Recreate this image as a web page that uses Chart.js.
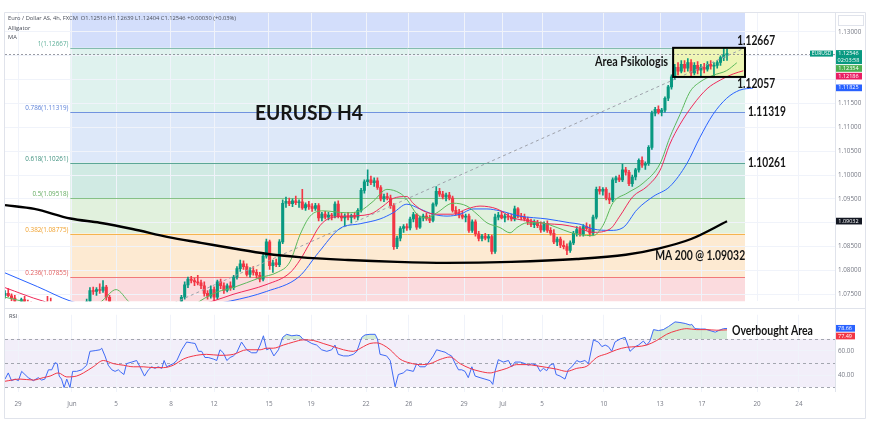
<!DOCTYPE html>
<html>
<head>
<meta charset="utf-8">
<script src="https://cdn.jsdelivr.net/npm/chart.js@4.4.0/dist/chart.umd.min.js"></script>
<style>
  html, body { margin: 0; padding: 0; background: #fff; }
  #wrap { position: relative; width: 870px; height: 426px; overflow: hidden; }
  canvas { position: absolute; left: 0; }
  #price { top: 0; }
  #rsi { top: 308px; }
</style>
</head>
<body>
<div id="wrap">
  <canvas id="price" width="870" height="308"></canvas>
  <canvas id="rsi" width="870" height="118"></canvas>
</div>
<script>
const UP = "#089981";
const DOWN = "#f23645";

// EURUSD 4h candles, 26 May – 18 Jul 2023: [open, high, low, close]
const candles4h = [
  // May 26
  [1.0748,1.0758,1.0742,1.0752],[1.0752,1.0762,1.0745,1.0747],[1.0747,1.0751,1.0736,1.0742],[1.0742,1.0748,1.0722,1.0726],
  // May 29
  [1.0726,1.0734,1.0712,1.0718],[1.0718,1.0742,1.0716,1.0739],[1.0739,1.0746,1.0728,1.0733],[1.0733,1.0738,1.0722,1.0728],[1.0728,1.0735,1.0716,1.0722],[1.0722,1.0731,1.0712,1.0725],
  // May 30
  [1.0725,1.0732,1.0708,1.0712],[1.0712,1.0718,1.0690,1.0698],[1.0698,1.0735,1.0695,1.0730],[1.0730,1.0746,1.0715,1.0720],[1.0720,1.0742,1.0702,1.0710],[1.0710,1.0716,1.0688,1.0692],
  // May 31
  [1.0692,1.0700,1.0672,1.0680],[1.0680,1.0689,1.0662,1.0670],[1.0670,1.0676,1.0640,1.0650],[1.0650,1.0668,1.0635,1.0662],[1.0662,1.0690,1.0655,1.0684],[1.0684,1.0696,1.0670,1.0688],
  // Jun 1
  [1.0688,1.0702,1.0680,1.0697],[1.0697,1.0712,1.0690,1.0706],[1.0706,1.0725,1.0700,1.0718],[1.0718,1.0740,1.0712,1.0735],[1.0735,1.0764,1.0730,1.0758],[1.0758,1.0765,1.0750,1.0756],
  // Jun 2
  [1.0756,1.0764,1.0748,1.0760],[1.0760,1.0772,1.0752,1.0758],[1.0758,1.0779,1.0754,1.0765],[1.0765,1.0769,1.0738,1.0744],[1.0744,1.0748,1.0712,1.0718],[1.0718,1.0724,1.0702,1.0709],
  // Jun 5
  [1.0709,1.0718,1.0690,1.0698],[1.0698,1.0712,1.0690,1.0705],[1.0705,1.0722,1.0698,1.0715],[1.0715,1.0728,1.0700,1.0706],[1.0706,1.0712,1.0680,1.0688],[1.0688,1.0716,1.0684,1.0710],
  // Jun 6
  [1.0710,1.0718,1.0700,1.0704],[1.0704,1.0710,1.0688,1.0694],[1.0694,1.0700,1.0668,1.0676],[1.0676,1.0705,1.0672,1.0700],[1.0700,1.0712,1.0692,1.0696],[1.0696,1.0706,1.0690,1.0700],
  // Jun 7
  [1.0700,1.0708,1.0690,1.0696],[1.0696,1.0702,1.0680,1.0686],[1.0686,1.0692,1.0668,1.0675],[1.0675,1.0706,1.0670,1.0699],[1.0699,1.0712,1.0692,1.0704],[1.0704,1.0710,1.0694,1.0700],
  // Jun 8
  [1.0700,1.0712,1.0696,1.0708],[1.0708,1.0722,1.0702,1.0718],[1.0718,1.0748,1.0714,1.0744],[1.0744,1.0776,1.0740,1.0770],[1.0770,1.0786,1.0764,1.0782],[1.0782,1.0788,1.0774,1.0779],
  // Jun 9
  [1.0779,1.0784,1.0768,1.0776],[1.0776,1.0790,1.0770,1.0774],[1.0774,1.0780,1.0762,1.0768],[1.0768,1.0776,1.0746,1.0752],[1.0752,1.0758,1.0740,1.0746],[1.0746,1.0768,1.0742,1.0760],
  // Jun 12
  [1.0760,1.0766,1.0736,1.0744],[1.0744,1.0780,1.0740,1.0776],[1.0776,1.0782,1.0762,1.0768],[1.0768,1.0774,1.0752,1.0758],[1.0758,1.0772,1.0755,1.0768],[1.0768,1.0776,1.0758,1.0764],
  // Jun 13
  [1.0764,1.0790,1.0760,1.0786],[1.0786,1.0808,1.0782,1.0804],[1.0804,1.0822,1.0798,1.0814],[1.0814,1.0820,1.0802,1.0808],[1.0808,1.0814,1.0788,1.0792],[1.0792,1.0806,1.0786,1.0800],
  // Jun 14
  [1.0800,1.0808,1.0790,1.0796],[1.0796,1.0802,1.0784,1.0790],[1.0790,1.0796,1.0776,1.0782],[1.0782,1.0834,1.0778,1.0830],[1.0830,1.0866,1.0826,1.0860],[1.0860,1.0864,1.0802,1.0810],
  // Jun 15
  [1.0810,1.0822,1.0796,1.0816],[1.0816,1.0824,1.0808,1.0812],[1.0812,1.0865,1.0808,1.0860],[1.0860,1.0948,1.0856,1.0941],[1.0941,1.0954,1.0932,1.0945],[1.0945,1.0952,1.0936,1.0940],
  // Jun 16
  [1.0940,1.0950,1.0934,1.0946],[1.0946,1.0956,1.0938,1.0942],[1.0942,1.0948,1.0932,1.0944],[1.0944,1.0970,1.0928,1.0931],[1.0931,1.0942,1.0926,1.0938],[1.0938,1.0945,1.0928,1.0934],
  // Jun 19
  [1.0934,1.0940,1.0924,1.0930],[1.0930,1.0941,1.0926,1.0936],[1.0936,1.0940,1.0904,1.0910],[1.0910,1.0922,1.0904,1.0918],[1.0918,1.0924,1.0908,1.0912],[1.0912,1.0922,1.0906,1.0916],
  // Jun 20
  [1.0916,1.0920,1.0906,1.0914],[1.0914,1.0944,1.0910,1.0939],[1.0939,1.0946,1.0910,1.0914],[1.0914,1.0920,1.0904,1.0910],[1.0910,1.0919,1.0894,1.0914],[1.0914,1.0922,1.0906,1.0911],
  // Jun 21
  [1.0911,1.0918,1.0900,1.0915],[1.0915,1.0922,1.0908,1.0912],[1.0912,1.0930,1.0906,1.0926],[1.0926,1.0972,1.0922,1.0968],[1.0968,1.0990,1.0962,1.0986],[1.0986,1.1011,1.0978,1.0990],
  // Jun 22
  [1.0990,1.0998,1.0980,1.0984],[1.0984,1.0994,1.0976,1.0988],[1.0988,1.0994,1.0970,1.0974],[1.0974,1.0978,1.0946,1.0950],[1.0950,1.0960,1.0944,1.0955],[1.0955,1.0962,1.0948,1.0952],
  // Jun 23
  [1.0952,1.0958,1.0930,1.0936],[1.0936,1.0940,1.0844,1.0850],[1.0850,1.0872,1.0846,1.0868],[1.0868,1.0892,1.0862,1.0888],[1.0888,1.0896,1.0880,1.0892],[1.0892,1.0898,1.0884,1.0889],
  // Jun 26
  [1.0889,1.0912,1.0885,1.0908],[1.0908,1.0922,1.0902,1.0917],[1.0917,1.0920,1.0886,1.0891],[1.0891,1.0914,1.0888,1.0910],[1.0910,1.0918,1.0904,1.0914],[1.0914,1.0920,1.0905,1.0909],
  // Jun 27
  [1.0909,1.0916,1.0900,1.0905],[1.0905,1.0942,1.0902,1.0939],[1.0939,1.0976,1.0935,1.0966],[1.0966,1.0972,1.0955,1.0960],[1.0960,1.0966,1.0950,1.0954],[1.0954,1.0962,1.0946,1.0958],
  // Jun 28
  [1.0958,1.0964,1.0948,1.0952],[1.0952,1.0956,1.0922,1.0926],[1.0926,1.0934,1.0916,1.0920],[1.0920,1.0928,1.0910,1.0916],[1.0916,1.0924,1.0908,1.0912],[1.0912,1.0918,1.0902,1.0914],
  // Jun 29
  [1.0914,1.0918,1.0880,1.0884],[1.0884,1.0906,1.0880,1.0902],[1.0902,1.0906,1.0872,1.0877],[1.0877,1.0882,1.0862,1.0867],[1.0867,1.0876,1.0862,1.0872],[1.0872,1.0878,1.0864,1.0868],
  // Jun 30
  [1.0868,1.0876,1.0860,1.0871],[1.0871,1.0874,1.0835,1.0840],[1.0840,1.0918,1.0836,1.0912],[1.0912,1.0922,1.0906,1.0916],[1.0916,1.0924,1.0908,1.0910],[1.0910,1.0918,1.0902,1.0914],
  // Jul 3
  [1.0914,1.0920,1.0906,1.0912],[1.0912,1.0918,1.0904,1.0908],[1.0908,1.0935,1.0904,1.0929],[1.0929,1.0932,1.0910,1.0914],[1.0914,1.0920,1.0906,1.0912],[1.0912,1.0918,1.0904,1.0908],
  // Jul 4
  [1.0908,1.0912,1.0896,1.0902],[1.0902,1.0908,1.0892,1.0896],[1.0896,1.0906,1.0890,1.0900],[1.0900,1.0905,1.0890,1.0894],[1.0894,1.0902,1.0880,1.0885],[1.0885,1.0902,1.0882,1.0898],
  // Jul 5
  [1.0898,1.0904,1.0880,1.0884],[1.0884,1.0890,1.0874,1.0878],[1.0878,1.0886,1.0856,1.0860],[1.0860,1.0870,1.0852,1.0866],[1.0866,1.0870,1.0848,1.0853],[1.0853,1.0862,1.0845,1.0850],
  // Jul 6
  [1.0850,1.0856,1.0833,1.0842],[1.0842,1.0862,1.0838,1.0858],[1.0858,1.0882,1.0854,1.0878],[1.0878,1.0892,1.0872,1.0886],[1.0886,1.0892,1.0872,1.0876],[1.0876,1.0896,1.0872,1.0892],
  // Jul 7
  [1.0892,1.0900,1.0884,1.0888],[1.0888,1.0896,1.0872,1.0878],[1.0878,1.0916,1.0874,1.0912],[1.0912,1.0975,1.0908,1.0970],[1.0970,1.0976,1.0960,1.0966],[1.0966,1.0974,1.0958,1.0970],
  // Jul 10
  [1.0970,1.0974,1.0948,1.0952],[1.0952,1.0962,1.0940,1.0948],[1.0948,1.0994,1.0944,1.0990],[1.0990,1.0998,1.0984,1.0994],[1.0994,1.1000,1.0986,1.0990],[1.0990,1.1023,1.0986,1.1011],
  // Jul 11
  [1.1011,1.1016,1.1000,1.1006],[1.1006,1.1010,1.0978,1.0982],[1.0982,1.1000,1.0976,1.0996],[1.0996,1.1014,1.0990,1.1011],[1.1011,1.1034,1.1006,1.1031],[1.1031,1.1038,1.1016,1.1021],
  // Jul 12
  [1.1021,1.1028,1.1012,1.1024],[1.1024,1.1062,1.1020,1.1058],[1.1058,1.1134,1.1054,1.1130],[1.1130,1.1142,1.1124,1.1138],[1.1138,1.1145,1.1128,1.1132],[1.1132,1.1140,1.1124,1.1136],
  // Jul 13
  [1.1136,1.1164,1.1132,1.1161],[1.1161,1.1188,1.1156,1.1185],[1.1185,1.1210,1.1180,1.1206],[1.1206,1.1232,1.1200,1.1226],[1.1226,1.1236,1.1210,1.1218],[1.1218,1.1240,1.1214,1.1232],
  // Jul 14
  [1.1232,1.1240,1.1216,1.1224],[1.1224,1.1244,1.1218,1.1236],[1.1236,1.1242,1.1208,1.1214],[1.1214,1.1236,1.1210,1.1230],[1.1230,1.1238,1.1212,1.1220],[1.1220,1.1232,1.1206,1.1226],
  // Jul 17
  [1.1226,1.1234,1.1214,1.1222],[1.1222,1.1238,1.1218,1.1232],[1.1232,1.1240,1.1222,1.1228],[1.1228,1.1236,1.1206,1.1230],[1.1230,1.1240,1.1224,1.1236],[1.1236,1.1250,1.1230,1.1246],
  // Jul 18
  [1.1246,1.12667,1.1240,1.12516],[1.12516,1.12639,1.12404,1.12546],
];

// indicator lines as [bar, value]
const ma200Pts = [[0,1.0937],[9,1.0929],[20,1.0909],[29,1.0900],[39,1.0887],[50,1.0870],[60,1.0858],[70,1.0846],[80,1.0835],[90,1.0828],[105,1.0822],[120,1.0818],[135,1.0816],[155,1.0818],[175,1.0824],[190,1.0833],[200,1.0846],[210,1.0866],[221,1.09032]];
const jawPts = [[0,1.0795],[10,1.0766],[20,1.0736],[30,1.0720],[45,1.0716],[60,1.0726],[69,1.0736],[80,1.0756],[90,1.0787],[96,1.0838],[102.5,1.0888],[108.7,1.0898],[114.8,1.0908],[118.8,1.0921],[123,1.0939],[127,1.0929],[131,1.0918],[135.3,1.0914],[139.3,1.0918],[143.3,1.0929],[147.5,1.0929],[151.5,1.0925],[157.6,1.0914],[165.9,1.0908],[172.9,1.0900],[176,1.0897],[180,1.0887],[185.2,1.0884],[189.2,1.0890],[193.5,1.0928],[198.4,1.0955],[203.5,1.0976],[208.7,1.1024],[212.7,1.1079],[216.7,1.1127],[220.9,1.1161],[224.9,1.1178],[229,1.11825]];
const teethPts = [[0,1.0764],[11.6,1.0736],[25,1.0716],[40,1.0720],[55,1.0722],[63.7,1.0736],[69.8,1.0750],[80.2,1.0771],[87.2,1.0795],[90.3,1.0822],[93.4,1.0859],[96.4,1.0894],[99.5,1.0910],[104.6,1.0914],[111.7,1.0918],[115.7,1.0935],[118.8,1.0951],[123,1.0955],[124.9,1.0941],[128,1.0925],[132.2,1.0918],[137.1,1.0918],[141.4,1.0929],[145.4,1.0935],[150.6,1.0929],[155.5,1.0910],[160.7,1.0904],[165.9,1.0898],[170.5,1.0896],[175.1,1.0890],[180,1.0880],[185.2,1.0887],[188.2,1.0914],[192.2,1.0955],[196.5,1.0976],[200.5,1.1010],[203.5,1.1065],[206.6,1.1106],[210.6,1.1147],[214.9,1.1181],[218.9,1.1199],[222.9,1.1212],[226,1.12186]];
const lipsPts = [[0,1.0744],[5,1.0736],[15,1.0714],[25,1.0712],[30,1.0738],[34,1.0760],[38,1.0734],[45,1.0700],[55,1.0712],[59.7,1.0736],[65,1.0755],[69.8,1.0764],[78.1,1.0785],[83.3,1.0796],[87.2,1.0818],[90.3,1.0875],[93.4,1.0914],[97.3,1.0925],[104.6,1.0921],[108.7,1.0925],[112.7,1.0945],[116.9,1.0970],[120.9,1.0962],[123,1.0949],[126.1,1.0918],[129.2,1.0910],[132.2,1.0921],[137.1,1.0941],[141.4,1.0935],[144.5,1.0918],[147.5,1.0900],[151.5,1.0890],[154.6,1.0879],[156.7,1.0890],[159.8,1.0900],[163.8,1.0900],[169,1.0890],[172.9,1.0880],[176,1.0875],[180,1.0873],[183,1.0894],[186.1,1.0942],[190.4,1.0962],[195.3,1.0983],[200.5,1.1024],[203.5,1.1079],[206.6,1.1127],[209.7,1.1175],[212.7,1.1195],[216.7,1.1209],[220.9,1.1219],[224,1.12354]];

const rsiPts = [[0,36.7],[1,41.8],[2,35.4],[3.1,36.7],[4.1,35.4],[5.1,43.1],[6.1,40.5],[7.1,37.9],[8.7,35.4],[10.2,37.9],[11.2,35.9],[12.2,36.7],[13.3,44.4],[14.3,44.4],[15.3,50.3],[16,49.5],[16.6,39.2],[17.3,36.7],[18.1,29.7],[18.9,36.7],[19.9,29.7],[20.7,43.1],[21.9,43.1],[23.5,44.4],[25,48.2],[26,59.7],[27.6,60.3],[29.1,61.0],[29.6,62.3],[30.6,55.9],[31.6,48.2],[32.7,44.4],[33.7,43.1],[34.7,44.4],[35.4,42.6],[36.4,40.5],[37.2,49.5],[38.8,50.8],[40.3,52.1],[41.3,46.9],[42.7,39.2],[43.9,44.4],[44.9,46.9],[45.9,45.6],[46.9,46.9],[48,45.6],[48.7,52.1],[49.5,46.9],[50.5,48.2],[51.5,49.5],[52.6,52.1],[54.1,61.0],[55.6,67.4],[57.1,66.7],[58.2,66.2],[59.2,59.7],[60.2,59.7],[61.2,54.6],[62.2,54.6],[63.8,53.3],[64.8,52.1],[65.8,61.0],[66.8,58.5],[67.9,52.1],[68.9,54.6],[69.9,55.9],[70.9,58.5],[72.4,67.4],[74,61.0],[75.5,58.5],[77,58.5],[78.1,64.9],[79.1,72.6],[80.1,61.0],[81.1,62.3],[82.3,55.9],[83.7,61.0],[85,71.3],[86.2,73.8],[87.8,72.6],[89.3,73.1],[90.3,72.6],[91.1,70.0],[92.3,68.7],[93.9,66.2],[95.4,64.9],[96.9,61.0],[98.5,59.7],[100,61.0],[101,64.9],[102,57.2],[103.6,55.9],[105.1,55.9],[106.6,57.2],[107.7,59.7],[109.2,71.3],[110.2,73.3],[111.7,73.8],[113.3,73.8],[114,70.0],[114.8,57.2],[116.8,55.9],[117.9,52.1],[119.4,30.3],[120.4,40.5],[121.9,41.8],[123,44.4],[125,43.1],[126,49.5],[127,46.9],[128.6,46.9],[130.1,52.0],[131.1,55.9],[132.1,61.0],[133.7,59.7],[134.7,59.0],[135.7,57.2],[136.7,55.9],[137.8,49.5],[138.8,44.4],[139.8,44.4],[140.8,43.1],[141.8,37.9],[142.9,46.9],[143.9,39.2],[145.4,37.9],[146.9,36.7],[148.5,35.4],[149.3,32.3],[150,43.1],[151,52.8],[152.5,50.8],[154.1,52.1],[155.1,46.9],[156.1,50.8],[157.7,50.8],[159.2,49.5],[160.2,48.2],[161.2,49.5],[162.8,48.2],[163.8,43.1],[164.8,45.6],[165.8,43.6],[166.8,48.2],[167.9,49.5],[168.7,40.5],[169.9,39.2],[171.4,36.7],[172.4,44.4],[173.5,46.9],[175,52.1],[176,50.8],[177.5,52.1],[178.6,49.5],[180.1,69.2],[181.6,67.4],[182.7,63.6],[183.7,64.9],[184.7,63.6],[185.7,59.7],[186.7,67.4],[188.3,70.0],[189.8,71.3],[191.3,59.7],[192.9,63.6],[193.9,64.9],[195.4,68.2],[196.4,64.9],[197.4,68.2],[198.5,77.7],[200,76.9],[201.5,77.7],[203.1,80.3],[205.1,84.1],[206.6,83.6],[208.2,82.8],[209.7,81.5],[210.2,82.1],[211.2,78.5],[212.8,78.2],[214.3,78.2],[215.8,76.9],[217.4,75.6],[218.4,76.9],[219.9,78.5],[221,78.66]];
const rsiMaPts = [[0,34.9],[4.6,36.7],[8.7,35.9],[11.7,37.9],[13.8,39.2],[16.3,41.8],[18.9,38.5],[21.9,39.2],[24,41.8],[27,46.9],[30.1,52.1],[33.2,49.5],[36.2,48.2],[39.3,46.9],[42.3,46.9],[45.4,46.2],[48.5,46.2],[51.5,48.2],[54.6,53.3],[57.7,55.9],[61.7,57.2],[65.8,56.4],[69.9,57.2],[74,61.0],[78.1,61.0],[80.1,62.3],[82.1,62.3],[85.2,64.9],[88.3,67.4],[91.3,69.2],[94.4,68.7],[97.4,66.2],[100.5,63.6],[103.6,61.0],[106.6,59.7],[109.7,63.6],[111.7,66.2],[113.8,66.7],[115.8,64.9],[117.9,61.0],[120.9,53.3],[124,50.0],[127,48.7],[130.1,49.5],[133.2,53.0],[136.2,55.0],[139.3,49.5],[142.3,45.6],[145.4,43.1],[148.5,41.8],[150.5,43.1],[153.6,45.6],[156.6,48.7],[159.7,48.7],[162.8,47.7],[165.8,46.4],[168.9,44.9],[171.9,43.1],[175,45.6],[178.1,47.4],[181.1,54.6],[184.2,57.7],[187.2,61.0],[190.3,63.1],[193.4,63.6],[196.4,64.9],[199.5,68.7],[202.5,73.8],[205.6,76.9],[208.7,78.5],[211.7,77.7],[214.8,77.7],[217.9,77.2],[221,77.49]];

// fibonacci retracement drawn from the 31 May low to the 18 Jul high
const fibRatios = [1, 0.786, 0.618, 0.5, 0.382, 0.236];
const fibPrices = [1.12667, 1.11319, 1.10261, 1.09518, 1.08775, 1.07855];
const fibTop = 1.16572;    // 1.618 level, off screen
const fibBottom = 1.06349; // 0 level, off screen
const fibBars = [20, 226.5];
const zoneBars = [204.5, 226.5];
const zonePrices = [1.12057, 1.12667];

const timeTickBars = [4, 20.5, 34, 50.8, 64, 80.8, 93.7, 110.5, 123.6, 140.5, 152.4, 164.4, 183.3, 200.5, 213.3, 230.2, 243];
const timeTickLabels = ["29", "Jun", "5", "8", "12", "15", "19", "22", "26", "29", "Jul", "5", "10", "13", "17", "20", "24"];
const priceTicks = [1.075, 1.08, 1.085, 1.09, 1.095, 1.1, 1.105, 1.11, 1.115, 1.12, 1.125, 1.13];
const rsiTicks = [40, 60];
const rsiLevels = [70, 50, 30];

const FIB_FILLS = ["#d3defb", "#dff2ee", "#dde8f9", "#d0eae3", "#e1f1dd", "#fdead2", "#fbdbde"];
const FIB_LINES = ["#84bcae", "#7193df", "#5ba797", "#86c186", "#f5b44e", "#f07a7a"];
const FIB_TEXT = ["#5daf98", "#5b80d8", "#3f917f", "#61aa5f", "#f0a02c", "#e25c5c"];
const LIPS = "#5cb85c", TEETH = "#ef2a5a", JAW = "#2962ff";
const BAR_MAX = 254.05;
const SCALE_W = 35;
const FONT = "'Open Sans', sans-serif";
const BOLD = "Lato, 'Open Sans', sans-serif";

Chart.defaults.font.family = FONT;
Chart.defaults.color = "#787b86";

const toXY = ([x, y]) => ({ x, y });
const last = (a) => a[a.length - 1];
const lastBar = last(candles4h);
const prevBar = candles4h[candles4h.length - 2];
const tagValues = [lastBar[3], last(lipsPts)[1], last(teethPts)[1], last(jawPts)[1], last(ma200Pts)[1]];
const candleColors = candles4h.map((c) => (c[3] >= c[0] ? UP : DOWN));

function boldText(ctx, text, px, py, size, maxW, align) {
  ctx.font = "bold " + size + "px " + BOLD;
  ctx.textAlign = align || "left";
  ctx.textBaseline = "middle";
  ctx.fillStyle = "#151515";
  ctx.fillText(text, px, py, maxW);
}

function drawTags(ctx, scale, tags, x0, w) {
  const items = tags.map((t) => ({ ...t, cy: scale.getPixelForValue(t.v) })).sort((a, b) => a.cy - b.cy);
  let prevBottom = -Infinity;
  ctx.font = "5.5px " + FONT;
  ctx.textAlign = "center";
  ctx.textBaseline = "middle";
  for (const t of items) {
    const h = t.sub ? 14 : 6.7;
    let top = t.cy - 3.5;
    if (top < prevBottom + 1) top = prevBottom + 1;
    ctx.fillStyle = t.color;
    ctx.fillRect(x0, top, w, h);
    ctx.fillStyle = "#fff";
    ctx.fillText(t.text, x0 + w / 2, top + 3.4);
    if (t.sub) ctx.fillText(t.sub, x0 + w / 2, top + 10.3);
    prevBottom = top + h;
  }
}

function frame(ctx, lines) {
  ctx.strokeStyle = "#e0e3eb";
  ctx.lineWidth = 1;
  ctx.setLineDash([]);
  ctx.beginPath();
  for (const [a, b, c, d] of lines) { ctx.moveTo(a, b); ctx.lineTo(c, d); }
  ctx.stroke();
}

const pricePanel = {
  id: "pricePanel",
  beforeDraw(chart) {
    const { ctx, chartArea: a, scales: { x, y } } = chart;
    ctx.save();
    ctx.fillStyle = "#fff";
    ctx.fillRect(0, 0, chart.width, chart.height);
    ctx.beginPath();
    ctx.rect(a.left, a.top, a.right - a.left, a.bottom - a.top);
    ctx.clip();
    const x0 = x.getPixelForValue(fibBars[0]);
    const x1 = x.getPixelForValue(fibBars[1]);
    const edges = [fibTop, ...fibPrices, fibBottom];
    for (let i = 0; i < edges.length - 1; i++) {
      const ya = y.getPixelForValue(edges[i]);
      const yb = y.getPixelForValue(edges[i + 1]);
      ctx.fillStyle = FIB_FILLS[i];
      ctx.fillRect(x0, ya, x1 - x0, yb - ya);
    }
    ctx.restore();
  },
  beforeDatasetsDraw(chart) {
    const { ctx, chartArea: a, scales: { x, y } } = chart;
    const x0 = x.getPixelForValue(fibBars[0]);
    const x1 = x.getPixelForValue(fibBars[1]);
    ctx.save();
    ctx.beginPath();
    ctx.rect(a.left, a.top, a.right - a.left, a.bottom - a.top);
    ctx.clip();
    ctx.lineWidth = 1;
    ctx.font = "6.3px " + FONT;
    ctx.textAlign = "right";
    ctx.textBaseline = "bottom";
    fibPrices.forEach((p, i) => {
      const py = Math.round(y.getPixelForValue(p)) + 0.5;
      ctx.strokeStyle = FIB_LINES[i];
      ctx.beginPath();
      ctx.moveTo(x0, py);
      ctx.lineTo(x1, py);
      ctx.stroke();
      ctx.fillStyle = FIB_TEXT[i];
      ctx.fillText(fibRatios[i] + "(" + p.toFixed(5) + ")", x0 - 2, py - 1.5);
    });
    // zone fill
    const zx0 = x.getPixelForValue(zoneBars[0]), zx1 = x.getPixelForValue(zoneBars[1]);
    const zy0 = y.getPixelForValue(zonePrices[1]), zy1 = y.getPixelForValue(zonePrices[0]);
    ctx.fillStyle = "rgba(246,246,140,0.58)";
    ctx.fillRect(zx0, zy0, zx1 - zx0, zy1 - zy0);
    // last price line
    const ly = Math.round(y.getPixelForValue(lastBar[3])) + 0.5;
    ctx.strokeStyle = "rgba(120,123,134,0.75)";
    ctx.setLineDash([2, 2]);
    ctx.beginPath();
    ctx.moveTo(a.left, ly);
    ctx.lineTo(a.right, ly);
    ctx.stroke();
    ctx.restore();
  },
  afterDatasetsDraw(chart) {
    const { ctx, scales: { x, y } } = chart;
    ctx.save();
    const zx0 = x.getPixelForValue(zoneBars[0]), zx1 = x.getPixelForValue(zoneBars[1]);
    const zy0 = y.getPixelForValue(zonePrices[1]), zy1 = y.getPixelForValue(zonePrices[0]);
    ctx.strokeStyle = "#000";
    ctx.lineWidth = 2;
    ctx.strokeRect(zx0, zy0, zx1 - zx0, zy1 - zy0);

    boldText(ctx, "EURUSD H4", x.getPixelForValue(76.5), y.getPixelForValue(1.1130), 21, 108);
    boldText(ctx, "Area Psikologis", zx0 - 5, (zy0 + zy1) / 2, 12.5, 73, "right");
    boldText(ctx, zonePrices[1].toFixed(5), x.getPixelForValue(224.1), zy0 - 7, 12.5, 38);
    boldText(ctx, zonePrices[0].toFixed(5), x.getPixelForValue(224.1), zy1 + 7.5, 12.5, 38);
    boldText(ctx, fibPrices[1].toFixed(5), x.getPixelForValue(227.4), y.getPixelForValue(fibPrices[1]), 12.5, 38);
    boldText(ctx, fibPrices[2].toFixed(5), x.getPixelForValue(227.4), y.getPixelForValue(fibPrices[2]), 12.5, 38);
    boldText(ctx, "MA 200 @ " + last(ma200Pts)[1].toFixed(5), x.getPixelForValue(199), y.getPixelForValue(1.08301), 12.5, 90);
    ctx.restore();
  },
  afterDraw(chart) {
    const { ctx, chartArea: a, scales: { y } } = chart;
    ctx.save();
    // legend text
    const diff = lastBar[3] - prevBar[3];
    const head = "Euro / Dollar AS, 4h, FXCM  O" + lastBar[0].toFixed(5) + " H" + lastBar[1].toFixed(5) +
      " L" + lastBar[2].toFixed(5) + " C" + lastBar[3].toFixed(5) + " +" + diff.toFixed(5) +
      " (+" + (diff / prevBar[3] * 100).toFixed(2) + "%)";
    ctx.font = "5.8px " + FONT;
    ctx.textAlign = "left";
    ctx.textBaseline = "middle";
    ctx.fillStyle = "#4a4e59";
    ctx.fillText(head, 8, 18.5, 228);
    ctx.fillText("Alligator", 8, 28);
    ctx.fillText("MA", 8, 37);

    drawTags(ctx, y, [
      { v: tagValues[0], text: tagValues[0].toFixed(5), sub: "02:03:58", color: UP },
      { v: tagValues[1], text: tagValues[1].toFixed(5), color: "#4caf50" },
      { v: tagValues[2], text: tagValues[2].toFixed(5), color: "#e91e63" },
      { v: tagValues[3], text: tagValues[3].toFixed(5), color: JAW },
      { v: tagValues[4], text: tagValues[4].toFixed(5), color: "#131722" },
    ], a.right, 27);
    // symbol tag
    const sy = y.getPixelForValue(lastBar[3]);
    ctx.fillStyle = UP;
    ctx.fillRect(a.right - 25, sy - 3, 23, 6);
    ctx.fillStyle = "#fff";
    ctx.font = "5px " + FONT;
    ctx.textAlign = "center";
    ctx.fillText("EURUSD", a.right - 13.5, sy + 0.2);

    frame(ctx, [[4.5, 12.5, 865.5, 12.5], [4.5, 12.5, 4.5, 308], [865.5, 12.5, 865.5, 308], [a.right + 0.5, 12.5, a.right + 0.5, 308]]);
    ctx.strokeStyle = "#e0e3eb";
    ctx.strokeRect(838.5, 15.5, 25, 10);
    ctx.restore();
  },
};

const rsiPanel = {
  id: "rsiPanel",
  beforeDraw(chart) {
    const { ctx, chartArea: a, scales: { y } } = chart;
    ctx.save();
    ctx.fillStyle = "#fff";
    ctx.fillRect(0, 0, chart.width, chart.height);
    const y70 = y.getPixelForValue(rsiLevels[0]);
    const y30 = y.getPixelForValue(rsiLevels[2]);
    ctx.fillStyle = "rgba(126,87,194,0.1)";
    ctx.fillRect(a.left, y70, a.right - a.left, y30 - y70);
    ctx.restore();
  },
  beforeDatasetsDraw(chart) {
    const { ctx, chartArea: a, scales: { y } } = chart;
    ctx.save();
    ctx.strokeStyle = "#a3a6af";
    ctx.lineWidth = 1;
    ctx.setLineDash([3, 3]);
    for (const lv of rsiLevels) {
      const py = Math.round(y.getPixelForValue(lv)) + 0.5;
      ctx.beginPath();
      ctx.moveTo(a.left, py);
      ctx.lineTo(a.right, py);
      ctx.stroke();
    }
    ctx.restore();
  },
  afterDraw(chart) {
    const { ctx, chartArea: a, scales: { x, y } } = chart;
    ctx.save();
    ctx.font = "5.8px " + FONT;
    ctx.textAlign = "left";
    ctx.textBaseline = "middle";
    ctx.fillStyle = "#4a4e59";
    ctx.fillText("RSI", 9, 8);
    boldText(ctx, "Overbought Area", x.getPixelForValue(222.5), y.getPixelForValue(76.9), 12.5, 81);
    drawTags(ctx, y, [
      { v: last(rsiPts)[1], text: last(rsiPts)[1].toFixed(2), color: JAW },
      { v: last(rsiMaPts)[1], text: last(rsiMaPts)[1].toFixed(2), color: DOWN },
    ], a.right, 20);
    frame(ctx, [[4.5, 0.5, 865.5, 0.5], [4.5, 0, 4.5, 110.5], [865.5, 0, 865.5, 110.5], [4.5, 110.5, 865.5, 110.5], [a.right + 0.5, 0, a.right + 0.5, a.bottom]]);
    ctx.restore();
  },
};

const xScale = (showLabels) => ({
  type: "linear",
  min: 0,
  max: BAR_MAX,
  offset: false,
  grid: { color: "#f0f3fa", drawTicks: false, offset: false },
  border: { display: false },
  afterBuildTicks: (s) => { s.ticks = timeTickBars.map((v) => ({ value: v })); },
  afterFit: (s) => { s.height = showLabels ? 34 : 0; },
  ticks: {
    display: showLabels,
    autoSkip: false,
    maxRotation: 0,
    padding: 8,
    color: "#787b86",
    font: { size: 6.3 },
    callback: (v, i) => timeTickLabels[i],
  },
});

const line = (label, pts, color, width, order) => ({
  type: "line",
  label,
  data: pts.map(toXY),
  borderColor: color,
  borderWidth: width,
  pointRadius: 0,
  cubicInterpolationMode: "monotone",
  order,
});

new Chart(document.getElementById("price"), {
  type: "line",
  data: {
    datasets: [
      line("MA 200", ma200Pts, "#000", 2.4, 1),
      line("Lips", lipsPts, LIPS, 1, 2),
      line("Teeth", teethPts, TEETH, 1, 3),
      line("Jaw", jawPts, JAW, 1, 4),
      {
        type: "line",
        label: "Fib trend",
        data: [{ x: fibBars[0], y: fibBottom }, { x: fibBars[1], y: fibPrices[0] }],
        borderColor: "#9ea1aa",
        borderWidth: 1,
        borderDash: [3, 3],
        pointRadius: 0,
        order: 5,
      },
      {
        type: "bar",
        label: "Wicks",
        data: candles4h.map((c, i) => ({ x: i, y: [c[2], c[1]] })),
        backgroundColor: candleColors,
        barThickness: 1,
        grouped: false,
        order: 9,
      },
      {
        type: "bar",
        label: "Bodies",
        data: candles4h.map((c, i) => ({ x: i, y: [c[0], c[3]] })),
        backgroundColor: candleColors,
        barThickness: 2.4,
        minBarLength: 1,
        grouped: false,
        order: 8,
      },
    ],
  },
  options: {
    responsive: false,
    animation: false,
    events: [],
    layout: { padding: { left: 5, right: 0, top: 13, bottom: 1 } },
    plugins: { legend: { display: false }, tooltip: { enabled: false } },
    scales: {
      x: xScale(false),
      y: {
        position: "right",
        min: 1.07356,
        max: 1.13397,
        beginAtZero: false,
        grid: { color: "#f0f3fa", drawTicks: false },
        border: { display: false },
        afterBuildTicks: (s) => { s.ticks = priceTicks.map((v) => ({ value: v })); },
        afterFit: (s) => { s.width = SCALE_W; },
        ticks: {
          padding: 3,
          color: "#787b86",
          font: { size: 6.3 },
          callback: (v) => (tagValues.some((t) => Math.abs(t - v) < 0.002) ? "" : v.toFixed(5)),
        },
      },
    },
  },
  plugins: [pricePanel],
});

new Chart(document.getElementById("rsi"), {
  type: "line",
  data: {
    datasets: [
      line("RSI MA", rsiMaPts, DOWN, 1, 1),
      {
        type: "line",
        label: "RSI",
        data: rsiPts.map(toXY),
        borderColor: "#3f6af5",
        borderWidth: 1,
        pointRadius: 0,
        tension: 0,
        fill: { target: { value: 70 }, above: "rgba(102,187,106,0.28)", below: "rgba(0,0,0,0)" },
        order: 2,
      },
    ],
  },
  options: {
    responsive: false,
    animation: false,
    events: [],
    layout: { padding: { left: 5, right: 0, top: 1, bottom: 0 } },
    plugins: { legend: { display: false }, tooltip: { enabled: false } },
    scales: {
      x: xScale(true),
      y: {
        position: "right",
        min: 26,
        max: 90,
        grid: { color: "#f0f3fa", drawTicks: false },
        border: { display: false },
        afterBuildTicks: (s) => { s.ticks = rsiTicks.map((v) => ({ value: v })); },
        afterFit: (s) => { s.width = SCALE_W; },
        ticks: { padding: 3, color: "#787b86", font: { size: 6.3 }, callback: (v) => v.toFixed(2) },
      },
    },
  },
  plugins: [rsiPanel],
});
</script>
</body>
</html>
